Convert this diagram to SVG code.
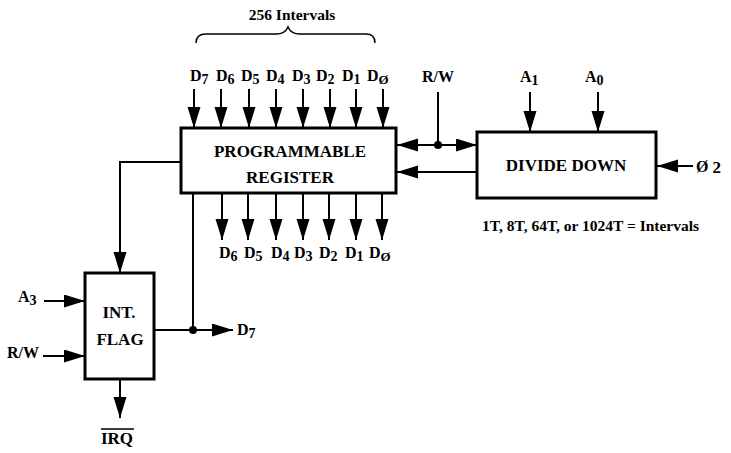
<svg xmlns="http://www.w3.org/2000/svg" width="731" height="453" viewBox="0 0 731 453">
<defs>
<marker id="ah" markerUnits="userSpaceOnUse" markerWidth="24" markerHeight="14" refX="21" refY="6.5" orient="auto">
<path d="M0,0 L21,6.5 L0,13 z" fill="#000"/>
</marker>
<style>
text{font-family:"Liberation Serif","Times New Roman",serif;font-weight:bold;fill:#000}
.box{fill:#fff;stroke:#000;stroke-width:3}
.ln{fill:none;stroke:#000;stroke-width:2}
.lb{font-size:16px}
.bx{font-size:17px;text-anchor:middle}
.sm{font-size:14px}
.z{font-size:13px}
.c{text-anchor:middle}
</style>
</defs>
<rect width="731" height="453" fill="#fff"/>
<g id="connectors">
<line class="ln" x1="194" y1="89" x2="194" y2="128" marker-end="url(#ah)"/>
<line class="ln" x1="221" y1="89" x2="221" y2="128" marker-end="url(#ah)"/>
<line class="ln" x1="249" y1="89" x2="249" y2="128" marker-end="url(#ah)"/>
<line class="ln" x1="276" y1="89" x2="276" y2="128" marker-end="url(#ah)"/>
<line class="ln" x1="303" y1="89" x2="303" y2="128" marker-end="url(#ah)"/>
<line class="ln" x1="330" y1="89" x2="330" y2="128" marker-end="url(#ah)"/>
<line class="ln" x1="356" y1="89" x2="356" y2="128" marker-end="url(#ah)"/>
<line class="ln" x1="383" y1="89" x2="383" y2="128" marker-end="url(#ah)"/>
<line class="ln" x1="222" y1="194" x2="222" y2="240" marker-end="url(#ah)"/>
<line class="ln" x1="248" y1="194" x2="248" y2="240" marker-end="url(#ah)"/>
<line class="ln" x1="276" y1="194" x2="276" y2="240" marker-end="url(#ah)"/>
<line class="ln" x1="303" y1="194" x2="303" y2="240" marker-end="url(#ah)"/>
<line class="ln" x1="329" y1="194" x2="329" y2="240" marker-end="url(#ah)"/>
<line class="ln" x1="356" y1="194" x2="356" y2="240" marker-end="url(#ah)"/>
<line class="ln" x1="382" y1="194" x2="382" y2="240" marker-end="url(#ah)"/>
<polyline class="ln" points="181,162 120,162 120,273" marker-end="url(#ah)"/>
<line class="ln" x1="193" y1="194" x2="193" y2="330"/>
<line class="ln" x1="155" y1="330" x2="233" y2="330" marker-end="url(#ah)"/>
<circle cx="193" cy="330" r="4" fill="#000"/>
<line class="ln" x1="44" y1="301" x2="85" y2="301" marker-end="url(#ah)"/>
<line class="ln" x1="43" y1="356" x2="85" y2="356" marker-end="url(#ah)"/>
<line class="ln" x1="120" y1="380" x2="120" y2="418" marker-end="url(#ah)"/>
<line class="ln" x1="438" y1="145" x2="477" y2="145" marker-end="url(#ah)"/>
<line class="ln" x1="438" y1="145" x2="397" y2="145" marker-end="url(#ah)"/>
<line class="ln" x1="438" y1="92" x2="438" y2="145"/>
<circle cx="438" cy="145" r="4" fill="#000"/>
<line class="ln" x1="477" y1="172" x2="397" y2="172" marker-end="url(#ah)"/>
<line class="ln" x1="530" y1="92" x2="530" y2="132" marker-end="url(#ah)"/>
<line class="ln" x1="598" y1="92" x2="598" y2="132" marker-end="url(#ah)"/>
<line class="ln" x1="693" y1="166" x2="657" y2="166" marker-end="url(#ah)"/>
</g>
<g id="register">
<rect class="box" x="181" y="128" width="215" height="65"/>
<text class="bx" x="290" y="157">PROGRAMMABLE</text>
<text class="bx" x="290" y="183">REGISTER</text>
</g>
<g id="divide-down">
<rect class="box" x="477" y="132" width="179" height="66"/>
<text class="bx" x="566" y="171">DIVIDE DOWN</text>
</g>
<g id="int-flag">
<rect class="box" x="85" y="273" width="69" height="106"/>
<text class="bx" x="119" y="318">INT.</text>
<text class="bx" x="120" y="345">FLAG</text>
</g>
<g id="labels">
<text x="292" y="20" class="c" style="font-size:15.5px">256 Intervals</text>
<path class="ln" style="stroke-width:1.5" d="M196,43 Q196,34 206,34 L276,34 Q285,34 288,27 Q291,34 300,34 L366,34 Q375,34 375,43"/>
<text x="190" y="81" class="lb">D<tspan class="sm" dy="3">7</tspan></text>
<text x="216" y="81" class="lb">D<tspan class="sm" dy="3">6</tspan></text>
<text x="241" y="81" class="lb">D<tspan class="sm" dy="3">5</tspan></text>
<text x="266" y="81" class="lb">D<tspan class="sm" dy="3">4</tspan></text>
<text x="292" y="81" class="lb">D<tspan class="sm" dy="3">3</tspan></text>
<text x="316" y="81" class="lb">D<tspan class="sm" dy="3">2</tspan></text>
<text x="342" y="81" class="lb">D<tspan class="sm" dy="3">1</tspan></text>
<text x="367" y="81" class="lb">D<tspan class="z" dy="3">Ø</tspan></text>
<text x="219" y="258" class="lb">D<tspan class="sm" dy="3">6</tspan></text>
<text x="244" y="258" class="lb">D<tspan class="sm" dy="3">5</tspan></text>
<text x="271" y="258" class="lb">D<tspan class="sm" dy="3">4</tspan></text>
<text x="294" y="258" class="lb">D<tspan class="sm" dy="3">3</tspan></text>
<text x="319" y="258" class="lb">D<tspan class="sm" dy="3">2</tspan></text>
<text x="345" y="258" class="lb">D<tspan class="sm" dy="3">1</tspan></text>
<text x="369" y="258" class="lb">D<tspan class="z" dy="3">Ø</tspan></text>
<text x="237" y="335" class="lb">D<tspan class="sm" dy="3">7</tspan></text>
<text x="18" y="302" class="lb">A<tspan class="sm" dy="3">3</tspan></text>
<text x="7" y="358" class="lb">R/W</text>
<text x="117" y="444" class="bx">IRQ</text>
<line x1="101" y1="429" x2="134" y2="429" stroke="#000" stroke-width="1.5"/>
<text x="438" y="82" class="lb c">R/W</text>
<text x="520" y="82" class="lb">A<tspan class="sm" dy="3">1</tspan></text>
<text x="585" y="82" class="lb">A<tspan class="sm" dy="3">0</tspan></text>
<text x="696" y="172" style="font-size:16px">Ø <tspan style="font-size:17px" dy="1">2</tspan></text>
<text x="482" y="231" style="font-size:15.5px">1T, 8T, 64T, or 1024T = Intervals</text>
</g>
</svg>
